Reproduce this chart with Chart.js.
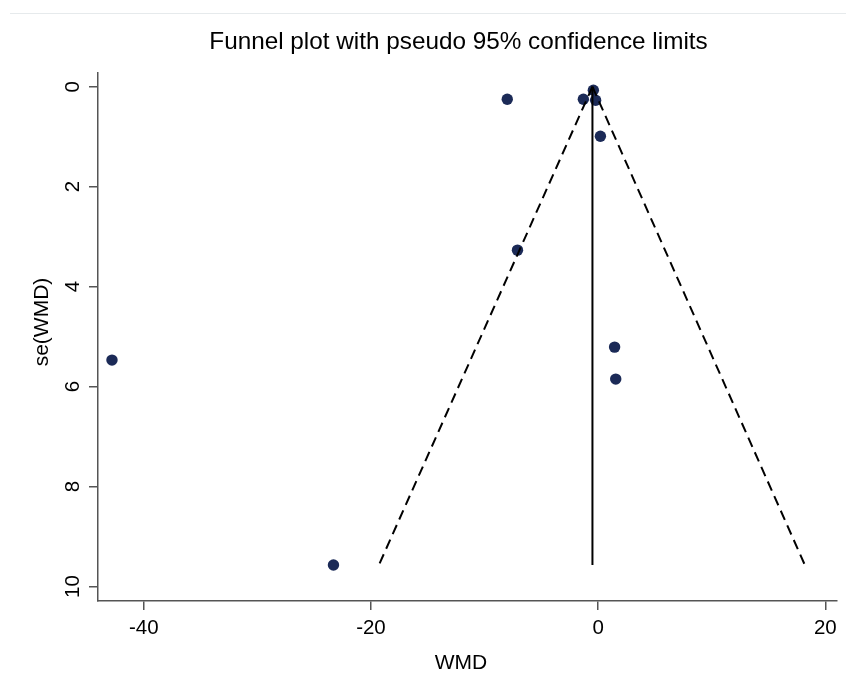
<!DOCTYPE html>
<html>
<head>
<meta charset="utf-8">
<script src="https://cdn.jsdelivr.net/npm/chart.js@4.4.1/dist/chart.umd.min.js"></script>
<style>
  html, body { margin: 0; padding: 0; background: #fff; }
  #wrap { position: relative; width: 846px; height: 680px; }
  #topline { position: absolute; left: 10px; top: 13px; width: 836px; height: 0; border-top: 1px solid #e6eaec; }
  canvas { position: absolute; left: 0; top: 0; }
</style>
</head>
<body>
<div id="wrap">
  <canvas id="c" width="846" height="680"></canvas>
  <div id="topline"></div>
</div>
<script>
// ---- data ----
const studyWMD = [-8.0, -1.3, -0.42, -0.22, 0.2, -7.1, -42.8, 1.45, 1.55, -23.3];
const studySE  = [0.25, 0.25, 0.07, 0.27, 0.99, 3.27, 5.47, 5.21, 5.85, 9.57];
const pooledWMD = -0.5;
const seMax = 9.57;
const funnelLowerEnd = -19.3;
const funnelUpperEnd = 18.2;
const xTickValues = [-40, -20, 0, 20];
const yTickValues = [0, 2, 4, 6, 8, 10];
const titleText = 'Funnel plot with pseudo 95% confidence limits';
const xTitle = 'WMD';
const yTitle = 'se(WMD)';

const FONT = '"Liberation Sans", Arial, sans-serif';
const axisGray = '#555555';
const navy = '#1b2a57';

const points = studyWMD.map((x, i) => ({ x: x, y: studySE[i] }));

const textPlugin = {
  id: 'texts',
  afterDraw(chart) {
    const ctx = chart.ctx;
    const ys = chart.scales.y;
    ctx.save();
    ctx.fillStyle = '#000';
    // y tick labels, rotated
    ctx.font = '20.5px ' + FONT;
    ctx.textAlign = 'center';
    ctx.textBaseline = 'middle';
    yTickValues.forEach(v => {
      const py = ys.getPixelForValue(v);
      ctx.save();
      ctx.translate(73, py);
      ctx.rotate(-Math.PI / 2);
      ctx.fillText(String(v), 0, 0);
      ctx.restore();
    });
    // y title
    ctx.font = '21px ' + FONT;
    ctx.save();
    ctx.translate(42, 322);
    ctx.rotate(-Math.PI / 2);
    ctx.fillText(yTitle, 0, 0);
    ctx.restore();
    // x title
    ctx.fillText(xTitle, 461, 663);
    // main title
    ctx.font = '24.3px ' + FONT;
    ctx.fillText(titleText, 458.5, 42);
    ctx.restore();
  }
};

new Chart(document.getElementById('c'), {
  data: {
    datasets: [
      {
        type: 'line',
        data: [{ x: pooledWMD, y: 0 }, { x: pooledWMD, y: seMax }],
        borderColor: '#000', borderWidth: 2, pointRadius: 0, fill: false
      },
      {
        type: 'line',
        data: [{ x: pooledWMD, y: 0 }, { x: funnelLowerEnd, y: seMax }],
        borderColor: '#000', borderWidth: 2, borderDash: [10, 6], pointRadius: 0, fill: false
      },
      {
        type: 'line',
        data: [{ x: pooledWMD, y: 0 }, { x: funnelUpperEnd, y: seMax }],
        borderColor: '#000', borderWidth: 2, borderDash: [10, 6], pointRadius: 0, fill: false
      },
      {
        type: 'scatter',
        data: points,
        backgroundColor: navy, borderColor: navy, borderWidth: 0,
        pointRadius: 5.7, pointHoverRadius: 5.7
      }
    ]
  },
  options: {
    responsive: false,
    animation: false,
    events: [],
    layout: { padding: { left: 0, right: 9, top: 73, bottom: 0 } },
    plugins: { legend: { display: false }, tooltip: { enabled: false }, title: { display: false } },
    scales: {
      x: {
        type: 'linear',
        min: -44.03, max: 21.03,
        afterBuildTicks: s => { s.ticks = xTickValues.map(v => ({ value: v })); },
        afterFit: s => { s.height = 79; },
        grid: { display: true, drawOnChartArea: false, drawTicks: true, tickLength: 9, color: axisGray, lineWidth: 1.5 },
        border: { display: true, color: axisGray, width: 1.5 },
        ticks: { font: { family: FONT, size: 20.5 }, color: '#000', padding: 6, maxRotation: 0, callback: v => String(v) }
      },
      y: {
        type: 'linear',
        reverse: true,
        min: -0.274, max: 10.29,
        afterBuildTicks: s => { s.ticks = yTickValues.map(v => ({ value: v })); },
        afterFit: s => { s.width = 98; },
        grid: { display: true, drawOnChartArea: false, drawTicks: true, tickLength: 9, color: axisGray, lineWidth: 1.5 },
        border: { display: true, color: axisGray, width: 1.5 },
        ticks: { display: false }
      }
    }
  },
  plugins: [textPlugin]
});
</script>
</body>
</html>
